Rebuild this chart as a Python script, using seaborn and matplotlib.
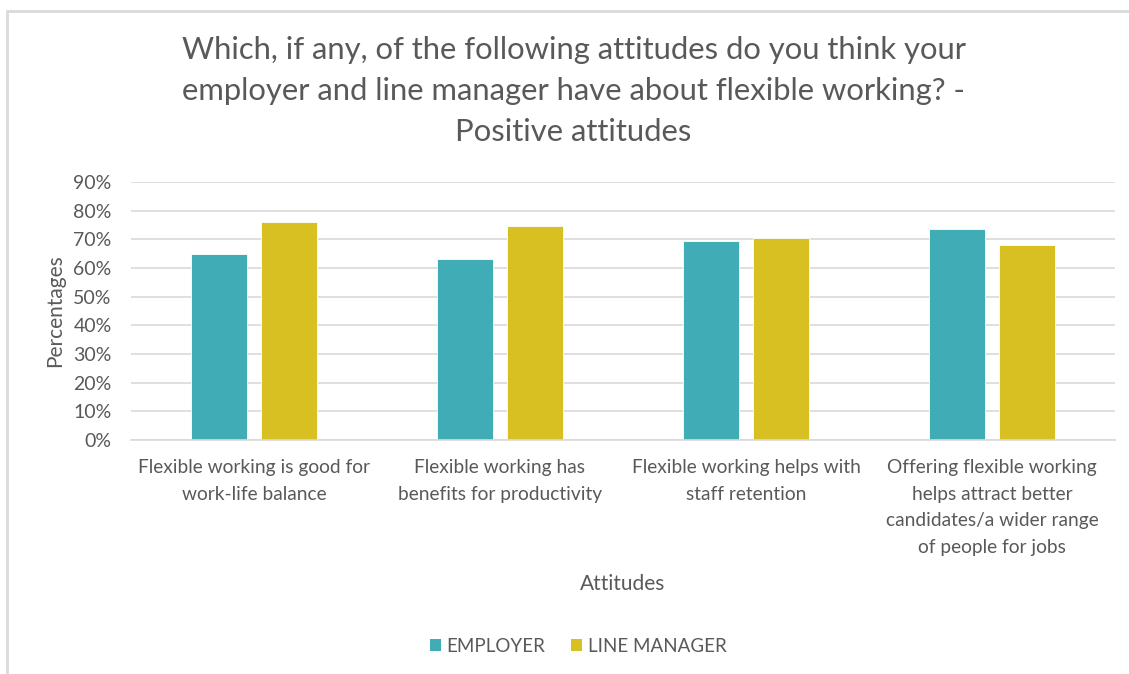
import matplotlib
matplotlib.use("Agg")
import matplotlib.pyplot as plt
from matplotlib.lines import Line2D
from matplotlib.patches import Patch
import seaborn as sns
import pandas as pd

# Survey results (% of respondents)
categories = [
    "Flexible working is good for\nwork-life balance",
    "Flexible working has\nbenefits for productivity",
    "Flexible working helps with\nstaff retention",
    "Offering flexible working\nhelps attract better\ncandidates/a wider range\nof people for jobs",
]
employer = [65, 63, 69.3, 73.7]
line_manager = [76, 74.6, 70.5, 68]
series_names = ["EMPLOYER", "LINE MANAGER"]
y_ticks = [0, 10, 20, 30, 40, 50, 60, 70, 80, 90]

colors = ["#3FACB6", "#D8C022"]
text_color = "#595959"
grid_color = "#D9D9D9"

df = pd.DataFrame({
    "Attitude": categories * 2,
    "Series": [series_names[0]] * len(categories) + [series_names[1]] * len(categories),
    "Value": employer + line_manager,
})

sns.set_theme(style="white")
plt.rcParams["font.family"] = ["Lato", "DejaVu Sans"]

fig = plt.figure(figsize=(11.29, 6.74), dpi=100)
ax = fig.add_axes([131 / 1129, 1 - 440 / 674, (1115 - 131) / 1129, (440 - 182) / 674])

sns.barplot(
    data=df, x="Attitude", y="Value", hue="Series",
    palette=colors, saturation=1, width=0.57, gap=0.2, ax=ax, legend=False,
    edgecolor="white", linewidth=0.6,
)

ax.set_ylim(0, 90)
ax.set_yticks(y_ticks)
ax.set_yticklabels([f"{t}%" for t in y_ticks])
ax.yaxis.grid(True, color=grid_color, linewidth=1.2)
ax.set_axisbelow(True)
for s in ["top", "right", "left"]:
    ax.spines[s].set_visible(False)
ax.spines["bottom"].set_color(grid_color)
ax.spines["bottom"].set_linewidth(1.2)
ax.tick_params(axis="both", length=0, colors=text_color)
ax.tick_params(axis="y", pad=14, labelsize=14)
ax.tick_params(axis="x", pad=14, labelsize=13.8)
for lbl in ax.get_xticklabels():
    lbl.set_linespacing(1.68)
    lbl.set_verticalalignment("top")

ax.set_ylabel("Percentages", color=text_color, fontsize=15, labelpad=6)
ax.set_xlabel("Attitudes", color=text_color, fontsize=15, labelpad=0)
ax.xaxis.set_label_coords(0.5, -0.52)

fig.text(
    0.508, 1 - 36 / 674,
    "Which, if any, of the following attitudes do you think your\n"
    "employer and line manager have about flexible working? -\n"
    "Positive attitudes",
    ha="center", va="top", fontsize=22.3, color=text_color, linespacing=1.56,
)

handles = [Patch(facecolor=c, edgecolor="none") for c in colors]
fig.legend(
    handles, series_names, loc="center", bbox_to_anchor=(0.512, 1 - 646 / 674),
    ncol=2, frameon=False, fontsize=13.5, labelcolor=text_color,
    handlelength=0.6, handleheight=0.6, handletextpad=0.3, columnspacing=1.35,
)

# Chart frame edges
fig.add_artist(Line2D([7 / 1129, 7 / 1129], [0, 1 - 11 / 674], transform=fig.transFigure,
                      color="#DADADA", linewidth=2))
fig.add_artist(Line2D([7 / 1129, 1], [1 - 11 / 674, 1 - 11 / 674], transform=fig.transFigure,
                      color="#DADADA", linewidth=2))

fig.savefig("out.png", dpi=100, facecolor="white")
